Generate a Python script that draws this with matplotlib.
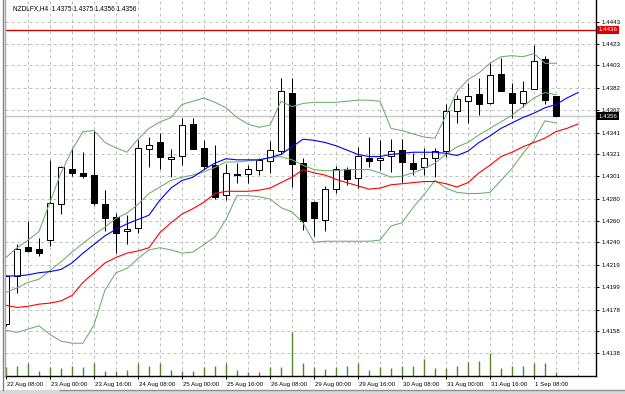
import numpy as np
import matplotlib.pyplot as plt
import matplotlib.transforms as mtransforms
from matplotlib.patches import Rectangle
from matplotlib.lines import Line2D

plt.rcParams['font.family'] = ['Liberation Sans', 'DejaVu Sans']

# --- data (NZDLFX, H4) ---
title_text = "NZDLFX,H4  1.4375 1.4375 1.4356 1.4356"

opens = [1.4165, 1.4209, 1.4236, 1.4234, 1.4242, 1.4275, 1.4308, 1.4304, 1.4302, 1.4275,
         1.4263, 1.4250, 1.4253, 1.4326, 1.4332, 1.4317, 1.4320, 1.4349, 1.4327, 1.4311,
         1.4284, 1.4303, 1.4303, 1.4307, 1.4315, 1.4324, 1.4378, 1.4313, 1.4277, 1.4261,
         1.4289, 1.4308, 1.4299, 1.4318, 1.4316, 1.4320, 1.4325, 1.4313, 1.4309, 1.4318,
         1.4324, 1.4361, 1.4370, 1.4377, 1.4368, 1.4395, 1.4378, 1.4368, 1.4381, 1.4409,
         1.4375]
highs = [1.4210, 1.4238, 1.4260, 1.4244, 1.4316, 1.4310, 1.4327, 1.4323, 1.4343, 1.4288,
         1.4267, 1.4265, 1.4334, 1.4337, 1.4341, 1.4326, 1.4355, 1.4355, 1.4334, 1.4330,
         1.4312, 1.4313, 1.4311, 1.4318, 1.4333, 1.4391, 1.4391, 1.4318, 1.4278, 1.4292,
         1.4310, 1.4309, 1.4328, 1.4337, 1.4334, 1.4335, 1.4335, 1.4322, 1.4327, 1.4327,
         1.4367, 1.4376, 1.4387, 1.4391, 1.4405, 1.4410, 1.4387, 1.4389, 1.4422, 1.4412,
         1.4375]
lows = [1.4163, 1.4193, 1.4231, 1.4227, 1.4237, 1.4266, 1.4301, 1.4299, 1.4274, 1.4250,
        1.4230, 1.4238, 1.4249, 1.4309, 1.4308, 1.4300, 1.4311, 1.4326, 1.4308, 1.4280,
        1.4279, 1.4295, 1.4295, 1.4302, 1.4304, 1.4321, 1.4291, 1.4251, 1.4246, 1.4250,
        1.4285, 1.4293, 1.4290, 1.4309, 1.4307, 1.4305, 1.4296, 1.4302, 1.4302, 1.4300,
        1.4319, 1.4350, 1.4350, 1.4357, 1.4367, 1.4379, 1.4355, 1.4365, 1.4381, 1.4367,
        1.4356]
closes = [1.4209, 1.4234, 1.4232, 1.4230, 1.4276, 1.4309, 1.4304, 1.4301, 1.4276, 1.4262,
          1.4249, 1.4252, 1.4327, 1.4330, 1.4319, 1.4319, 1.4348, 1.4326, 1.4310, 1.4282,
          1.4304, 1.4302, 1.4308, 1.4316, 1.4325, 1.4379, 1.4312, 1.4260, 1.4262, 1.4289,
          1.4308, 1.4298, 1.4320, 1.4315, 1.4318, 1.4324, 1.4314, 1.4308, 1.4318, 1.4324,
          1.4361, 1.4372, 1.4375, 1.4367, 1.4394, 1.4379, 1.4368, 1.4379, 1.4407, 1.4371,
          1.4356]
# tick volumes (relative)
volumes = [9, 10, 13, 5, 9, 8, 10, 9, 13, 5, 5, 6, 13, 10, 13, 6, 5, 5, 9, 10,
           13, 6, 4, 4, 9, 9, 44, 13, 9, 7, 9, 10, 13, 6, 9, 8, 10, 10, 17, 8,
           8, 10, 14, 15, 23, 8, 10, 10, 13, 13, 4]

# moving averages are shifted 2 bars to the right -> 53 points
ma_blue = [1.4209, 1.4209, 1.4210, 1.4212, 1.4213, 1.4215, 1.4221, 1.4230, 1.4238, 1.4246,
           1.4252, 1.4257, 1.4261, 1.4265, 1.4279, 1.4290, 1.4297, 1.4300, 1.4307, 1.4313,
           1.4317, 1.4316, 1.4316, 1.4316, 1.4318, 1.4321, 1.4328, 1.4335, 1.4334, 1.4332,
           1.4329, 1.4325, 1.4321, 1.4319, 1.4319, 1.4321, 1.4322, 1.4323, 1.4323, 1.4323,
           1.4322, 1.4320, 1.4324, 1.4332, 1.4338, 1.4345, 1.4350, 1.4355, 1.4359, 1.4364,
           1.4367, 1.4373, 1.4378]
ma_red = [1.4182, 1.4180, 1.4181, 1.4183, 1.4184, 1.4186, 1.4191, 1.4203, 1.4212, 1.4221,
          1.4226, 1.4230, 1.4232, 1.4235, 1.4249, 1.4258, 1.4266, 1.4271, 1.4277, 1.4285,
          1.4287, 1.4287, 1.4287, 1.4288, 1.4290, 1.4295, 1.4300, 1.4307, 1.4304, 1.4302,
          1.4298, 1.4295, 1.4292, 1.4289, 1.4290, 1.4293, 1.4294, 1.4295, 1.4296, 1.4296,
          1.4294, 1.4291, 1.4295, 1.4304, 1.4311, 1.4319, 1.4323, 1.4328, 1.4332, 1.4336,
          1.4342, 1.4345, 1.4349]

# bollinger bands
bb_upper = [1.4226, 1.4235, 1.4242, 1.4250, 1.4277, 1.4304, 1.4325, 1.4342, 1.4343, 1.4332,
            1.4327, 1.4323, 1.4335, 1.4345, 1.4351, 1.4355, 1.4367, 1.4370, 1.4373, 1.4369,
            1.4364, 1.4355, 1.4349, 1.4346, 1.4348, 1.4370, 1.4365, 1.4368, 1.4369, 1.4369,
            1.4369, 1.4370, 1.4371, 1.4371, 1.4370, 1.4345, 1.4343, 1.4340, 1.4337, 1.4336,
            1.4357, 1.4379, 1.4390, 1.4396, 1.4405, 1.4411, 1.4412, 1.4411, 1.4414, 1.4405,
            1.4405]
bb_middle = [1.4194, 1.4198, 1.4203, 1.4206, 1.4214, 1.4222, 1.4231, 1.4239, 1.4247, 1.4254,
             1.4262, 1.4267, 1.4275, 1.4285, 1.4291, 1.4297, 1.4300, 1.4302, 1.4305, 1.4309,
             1.4314, 1.4314, 1.4315, 1.4316, 1.4318, 1.4319, 1.4316, 1.4311, 1.4307, 1.4306,
             1.4306, 1.4307, 1.4307, 1.4307, 1.4304, 1.4300, 1.4301, 1.4304, 1.4308, 1.4313,
             1.4321, 1.4328, 1.4332, 1.4339, 1.4345, 1.4351, 1.4357, 1.4365, 1.4373, 1.4378,
             1.4376]
bb_lower = [1.4159, 1.4157, 1.4160, 1.4163, 1.4155, 1.4149, 1.4147, 1.4147, 1.4164, 1.4196,
            1.4212, 1.4216, 1.4225, 1.4233, 1.4235, 1.4233, 1.4230, 1.4231, 1.4238, 1.4245,
            1.4261, 1.4283, 1.4283, 1.4282, 1.4280, 1.4272, 1.4268, 1.4258, 1.4240, 1.4241,
            1.4241, 1.4241, 1.4241, 1.4241, 1.4242, 1.4255, 1.4258, 1.4272, 1.4284, 1.4297,
            1.4290, 1.4286, 1.4285, 1.4285, 1.4286, 1.4297, 1.4308, 1.4322, 1.4334, 1.4352,
            1.4350]

price_ticks = [1.4443, 1.4423, 1.4403, 1.4382, 1.4362, 1.4341, 1.4321, 1.4301,
               1.4280, 1.4260, 1.4240, 1.4219, 1.4199, 1.4178, 1.4158, 1.4138]
date_labels = ['22 Aug 08:00', '23 Aug 00:00', '23 Aug 16:00', '24 Aug 08:00',
               '25 Aug 00:00', '25 Aug 16:00', '26 Aug 08:00', '29 Aug 00:00',
               '29 Aug 16:00', '30 Aug 08:00', '31 Aug 00:00', '31 Aug 16:00',
               '1 Sep 08:00']
date_bars = list(range(0, 4 * len(date_labels), 4))
ask_price = 1.4436
bid_price = 1.4356

W, H = 625, 394
px = 0.72  # one pixel in points at dpi=100

fig = plt.figure(figsize=(W / 100, H / 100), dpi=100)
fig.patch.set_facecolor('white')
ax = fig.add_axes([5 / W, 18 / H, 591 / W, 376 / H])
ax.set_xlim(-0.09, 53.64)
ax.set_ylim(1.41168, 1.44633)

# grid
for b in range(2, 54, 2):
    ax.axvline(b, color='#c0c0c0', lw=px, ls=(0, (3, 3)), zorder=0)
for p in price_ticks:
    ax.axhline(p, color='#c0c0c0', lw=px, ls=(0, (3, 3)), zorder=0)

n = len(opens)
xs = np.arange(n)

# volumes at the bottom of the price window
vol_scale = 0.118 / max(volumes)
ax.vlines(xs, 0, np.array(volumes) * vol_scale, color='#4f8a2a', lw=1.0,
          transform=ax.get_xaxis_transform(), zorder=1)

# ask / bid lines
ax.axhline(ask_price, color='#cc0000', lw=1.0, zorder=1)
ax.axhline(bid_price, color='#c8c8c8', lw=1.0, zorder=1)

# candles
body_w = 0.6
for i in range(n):
    o, h, l, c = opens[i], highs[i], lows[i], closes[i]
    ax.vlines(i, l, h, color='black', lw=px, zorder=3)
    bottom = min(o, c)
    height = abs(c - o)
    if height < 0.00005:
        ax.hlines(o, i - body_w / 2, i + body_w / 2, color='black', lw=px, zorder=4)
        continue
    face = 'white' if c > o else 'black'
    ax.add_patch(Rectangle((i - body_w / 2, bottom), body_w, height, facecolor=face,
                           edgecolor='black', lw=px, zorder=4))

# indicators
bb_x = np.arange(len(bb_upper))
for band in (bb_upper, bb_middle, bb_lower):
    ax.plot(bb_x, band, color='#6aae6a', lw=0.75, zorder=5)
ma_x = np.arange(len(ma_blue))
ax.plot(ma_x, ma_blue, color='#0000ff', lw=0.8, zorder=6)
ax.plot(ma_x, ma_red, color='#ff0000', lw=0.8, zorder=6)

# axes look
for side in ('top', 'left'):
    ax.spines[side].set_visible(False)
for side in ('right', 'bottom'):
    ax.spines[side].set_color('black')
    ax.spines[side].set_linewidth(1.0)

ax.yaxis.tick_right()
ax.set_yticks(price_ticks)
ax.set_yticklabels([f"{p:.4f}" for p in price_ticks])
ax.tick_params(axis='y', length=2.5, width=px, pad=1.2, labelsize=4.4, colors='black')

ax.set_xticks(date_bars)
ax.set_xticklabels(date_labels)
ax.tick_params(axis='x', length=2.5, width=px, pad=1.5, labelsize=4.4, colors='black')
offset = mtransforms.ScaledTranslation(1 / 100, 0, fig.dpi_scale_trans)
for lbl in ax.get_xticklabels():
    lbl.set_ha('left')
    lbl.set_transform(lbl.get_transform() + offset)

# current price markers on the scale
blend = mtransforms.blended_transform_factory(ax.transAxes, ax.transData)
ax.text(1.004, ask_price, f"{ask_price:.4f}", transform=blend, va='center', ha='left',
        fontsize=4.4, color='white', clip_on=False, zorder=10,
        bbox=dict(boxstyle='square,pad=0.25', fc='#e00000', ec='none'))
ax.text(1.004, bid_price, f"{bid_price:.4f}", transform=blend, va='center', ha='left',
        fontsize=4.4, color='white', clip_on=False, zorder=10,
        bbox=dict(boxstyle='square,pad=0.25', fc='black', ec='none'))

# title
ax.text(8 / 591, 1 - 9 / 376, title_text, transform=ax.transAxes, va='center', ha='left',
        fontsize=4.7, color='black', zorder=10)

# window frame bits
fig.add_artist(Line2D([2.5 / W, 2.5 / W], [4 / H, 1], color='#808080', lw=1.0))
fig.add_artist(Line2D([4.5 / W, 4.5 / W], [18 / H, 1], color='#a8a8a8', lw=1.0))
fig.add_artist(Rectangle((0, 0), 1, 4 / H, transform=fig.transFigure,
                         facecolor='#d8d8d8', edgecolor='none'))
fig.add_artist(Line2D([60 / W, 1], [4.5 / H, 4.5 / H], color='#909090', lw=1.0))

fig.savefig('out.png', dpi=100)
